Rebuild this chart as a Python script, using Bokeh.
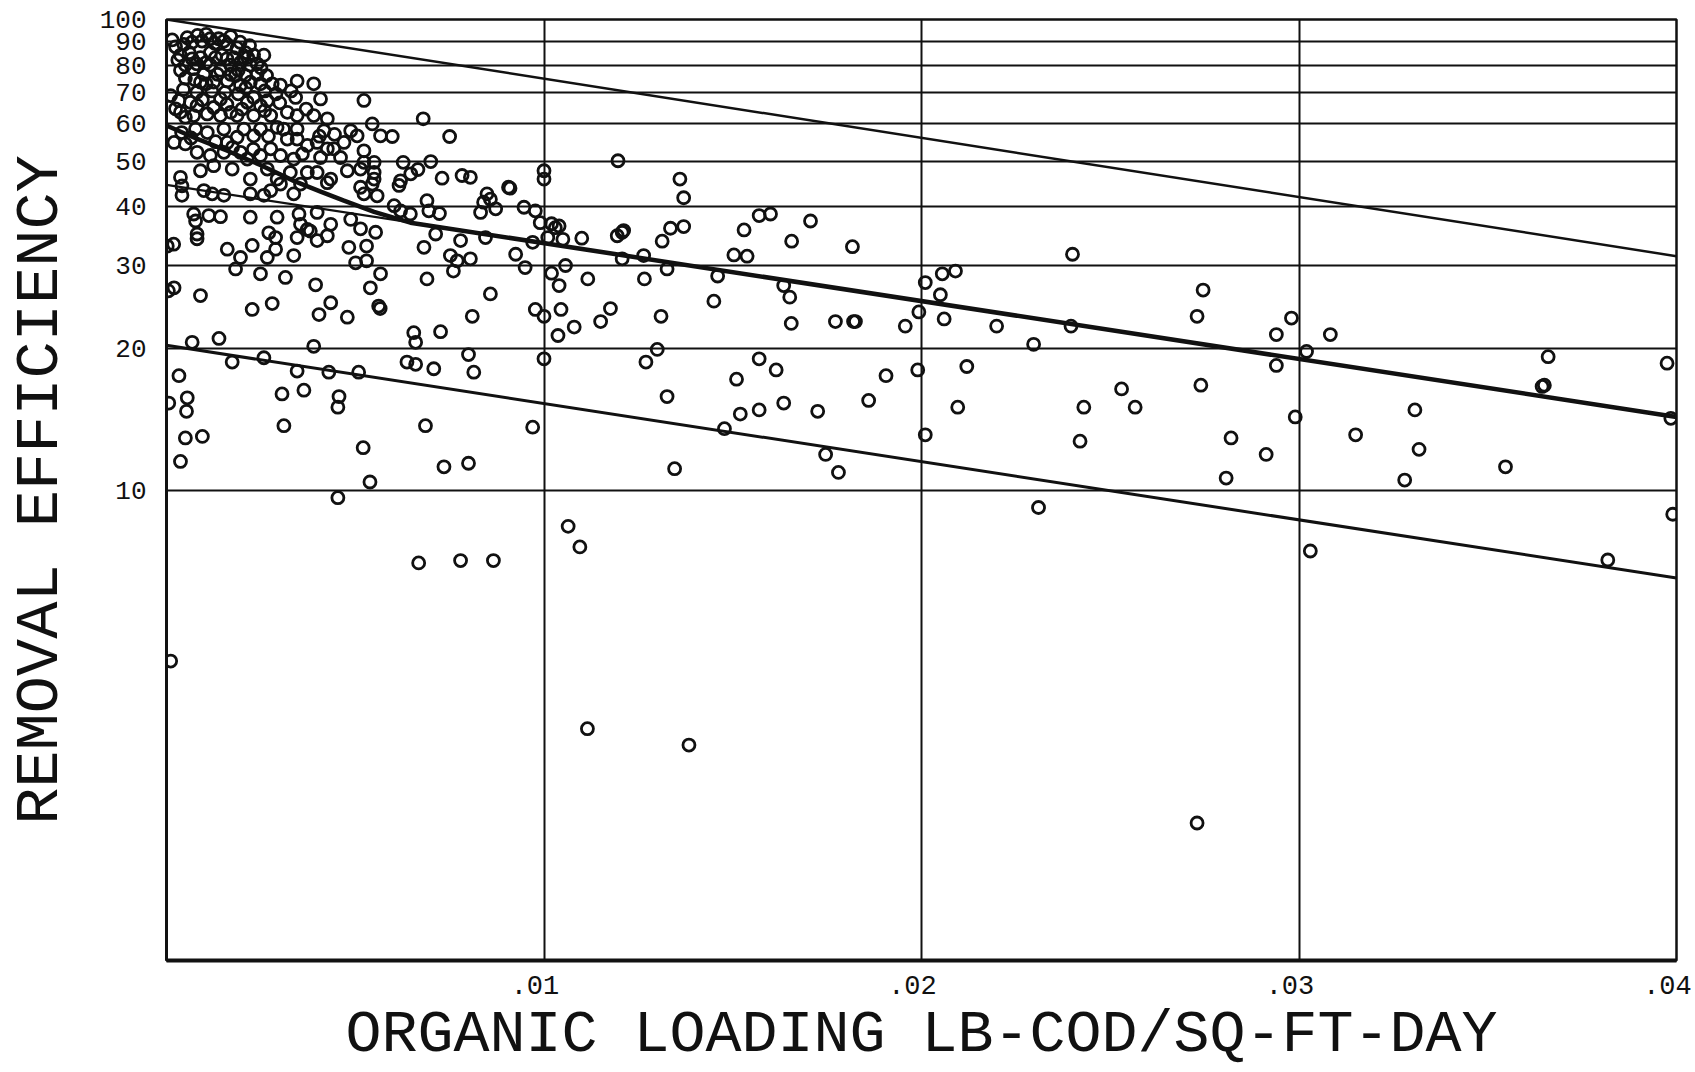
from bokeh.plotting import figure
from bokeh.models import Range1d, FixedTicker
from bokeh.embed import file_html
from bokeh.resources import INLINE

# ---------------- data ----------------
loading = [
    # dense cluster, 70-95 %
    0.00024, 0.00046, 0.00068, 0.00094, 0.00116, 0.00138, 0.00170, 0.00161, 0.00187, 0.00209,
    0.00231, 0.00258, 0.00037, 0.00068, 0.00090, 0.00116, 0.00143, 0.00170, 0.00196, 0.00222,
    0.00240, 0.00090, 0.00125, 0.00161, 0.00196, 0.00222, 0.00249, 0.00280, 0.00302, 0.00346,
    0.00390, 0.00037, 0.00060, 0.00116, 0.00147, 0.00178, 0.00205, 0.00072, 0.00099, 0.00183,
    0.00209, 0.00240,
    0.00015, 0.00055, 0.00082, 0.00105, 0.00128, 0.00152, 0.00195, 0.00220, 0.00030, 0.00050,
    0.00080, 0.00105, 0.00130, 0.00160, 0.00190, 0.00215, 0.00250, 0.00265, 0.00050, 0.00075,
    0.00105, 0.00135, 0.00170, 0.00210, 0.00260, 0.00045, 0.00080, 0.00120, 0.00155, 0.00190,
    # 60-70 %
    0.00011, 0.00033, 0.00024, 0.00037, 0.00063, 0.00081, 0.00108, 0.00072, 0.00143, 0.00170,
    0.00187, 0.00214, 0.00231, 0.00249, 0.00267, 0.00231, 0.00276, 0.00320, 0.00346, 0.00342,
    0.00390, 0.00408, 0.00143, 0.00426,
    0.00050, 0.00095, 0.00125, 0.00160, 0.00200, 0.00260, 0.00300, 0.00370, 0.00290, 0.00330,
    # 50-60 %
    0.00020, 0.00050, 0.00077, 0.00108, 0.00152, 0.00161, 0.00187, 0.00205, 0.00231, 0.00249,
    0.00276, 0.00293, 0.00320, 0.00346, 0.00346, 0.00373, 0.00399, 0.00426, 0.00417, 0.00443,
    0.00470, 0.00488, 0.00081, 0.00116, 0.00152, 0.00196, 0.00214, 0.00249, 0.00302, 0.00337,
    0.00505,
    0.00040, 0.00065, 0.00130, 0.00175, 0.00230, 0.00270, 0.00310, 0.00360, 0.00405, 0.00445,
    # 45-50 %
    0.00037, 0.00090, 0.00125, 0.00174, 0.00222, 0.00267, 0.00293, 0.00328, 0.00373, 0.00399,
    0.00435, 0.00479, 0.00408, 0.00461,
    # x 0.005-0.008, upper
    0.00523, 0.00545, 0.00567, 0.00598, 0.00680, 0.00750, 0.00523, 0.00523, 0.00550, 0.00514,
    0.00550, 0.00550, 0.00627, 0.00647, 0.00666, 0.00700, 0.00620, 0.00730, 0.00783, 0.00805,
    # x 0.005-0.009, middle
    0.00545, 0.00616, 0.00906, 0.00523, 0.00558, 0.00603, 0.00620, 0.00646, 0.00690, 0.00695,
    0.00723, 0.00849, 0.00840, 0.00832, 0.00872, 0.00858, 0.00514, 0.00554, 0.00530, 0.00530,
    0.00682, 0.00713, 0.00779, 0.00752, 0.00770, 0.00805, 0.00760, 0.00845, 0.00567, 0.00540,
    0.00690, 0.00562, 0.00566, 0.00858, 0.00810, 0.00655, 0.00660, 0.00726,
    # x 0-0.005, 23-45 %
    0.00041, 0.00041, 0.00099, 0.00121, 0.00152, 0.00222, 0.00258, 0.00276, 0.00302, 0.00337,
    0.00355, 0.00426, 0.00514, 0.00072, 0.00077, 0.00081, 0.00081, 0.00112, 0.00143, 0.00222,
    0.00293, 0.00351, 0.00355, 0.00381, 0.00399, 0.00399, 0.00435, 0.00426, 0.00488, 0.00271,
    0.00289, 0.00346, 0.00373, 0.00019, 0.00002, 0.00161, 0.00196, 0.00227, 0.00267, 0.00289,
    0.00337, 0.00183, 0.00249, 0.00315, 0.00395, 0.00483, 0.00501, 0.00005, 0.00020, 0.00090,
    0.00227, 0.00280, 0.00404, 0.00435, 0.00479,
    # x 0-0.009, 9-21 %
    0.00033, 0.00006, 0.00055, 0.00053, 0.00050, 0.00095, 0.00037, 0.00068, 0.00139, 0.00174,
    0.00258, 0.00306, 0.00311, 0.00346, 0.00364, 0.00390, 0.00430, 0.00457, 0.00454, 0.00509,
    0.00521, 0.00539, 0.00454, 0.00637, 0.00660, 0.00708, 0.00800, 0.00814, 0.00686, 0.00735,
    0.00800, 0.00011,
    # x 0.009-0.022
    0.01196, 0.01000, 0.01000, 0.01360, 0.01370, 0.00910, 0.00947, 0.00977, 0.00990, 0.01020,
    0.01030, 0.01040, 0.01010, 0.01050, 0.01100, 0.00970, 0.00925, 0.00950, 0.01020, 0.01057,
    0.01040, 0.01116, 0.00977, 0.01000, 0.01045, 0.01037, 0.01080, 0.01150, 0.01176, 0.01000,
    0.01194, 0.01207, 0.01211, 0.01207, 0.01264, 0.01266, 0.01313, 0.01335, 0.01370, 0.01326,
    0.01310, 0.01300, 0.01270, 0.01326, 0.01346, 0.00970, 0.01450, 0.01460, 0.01503, 0.01538,
    0.01530, 0.01570, 0.01600, 0.01706, 0.01656, 0.01635, 0.01651, 0.01655, 0.01772, 0.01820,
    0.01825, 0.01817, 0.01957, 0.02010, 0.01993, 0.02050, 0.02055, 0.02090, 0.02060, 0.02199,
    0.01990, 0.02120, 0.02096, 0.02010, 0.01570, 0.01615, 0.01510, 0.01520, 0.01570, 0.01635,
    0.01725, 0.01860, 0.01906, 0.01746, 0.01780, 0.01478,
    # x 0.022-0.04
    0.02400, 0.02297, 0.02396, 0.02310, 0.02430, 0.02420, 0.02530, 0.02566, 0.02746, 0.02730,
    0.02740, 0.02820, 0.02807, 0.02913, 0.02980, 0.02940, 0.02940, 0.03020, 0.03083, 0.02990,
    0.03150, 0.03030, 0.03280, 0.03307, 0.03318, 0.03547, 0.03660, 0.03644, 0.03650, 0.03975,
    0.03990, 0.03818, 0.03985, 0.02730,
    # low outliers
    0.01115, 0.01384, 0.01064, 0.01095, 0.00668, 0.00779, 0.00866,
]

efficiency = [
    87.5, 88.5, 89.5, 90.0, 91.0, 91.0, 92.0, 88.5, 87.0, 85.0,
    84.0, 84.0, 78.0, 82.5, 83.0, 80.0, 78.0, 80.0, 81.0, 80.0,
    76.5, 73.6, 73.6, 74.0, 72.5, 73.6, 73.0, 73.0, 72.5, 74.0,
    73.0, 84.0, 85.0, 85.0, 84.0, 83.0, 83.0, 78.6, 76.5, 76.0,
    76.0, 80.5,
    90.5, 91.5, 92.5, 93.0, 89.0, 90.0, 89.5, 88.0, 82.0, 80.0,
    80.5, 81.0, 83.0, 82.5, 78.0, 83.0, 79.0, 76.0, 75.0, 74.5,
    73.0, 76.5, 76.5, 71.5, 70.5, 71.0, 70.0, 70.5, 70.0, 69.5,
    68.9, 67.2, 64.6, 63.5, 66.7, 65.6, 63.0, 62.5, 67.8, 63.5,
    62.5, 66.7, 68.3, 65.6, 67.2, 62.5, 62.5, 63.5, 62.5, 68.3,
    62.5, 67.8, 62.5, 61.5,
    62.0, 67.5, 65.0, 66.0, 64.5, 64.0, 66.5, 64.5, 69.5, 70.5,
    54.8, 54.4, 58.5, 57.5, 58.5, 54.8, 56.2, 58.5, 56.6, 58.5,
    53.1, 59.0, 55.7, 58.5, 55.7, 54.0, 54.8, 53.1, 58.0, 53.1,
    54.8, 58.0, 52.2, 51.4, 52.2, 52.2, 50.5, 51.4, 51.4, 50.5,
    56.6,
    57.5, 56.0, 55.0, 53.5, 53.0, 56.5, 58.5, 51.8, 56.5, 57.0,
    46.2, 47.7, 48.9, 48.1, 45.8, 48.1, 45.8, 47.3, 47.3, 47.3,
    45.8, 47.7, 50.9, 50.9,
    67.3, 60.0, 56.6, 56.4, 61.5, 56.4, 52.6, 49.7, 49.7, 48.1,
    47.3, 45.8, 49.7, 47.0, 48.0, 49.9, 45.4, 46.0, 46.6, 46.2,
    44.7, 44.4, 44.0, 42.6, 42.2, 40.2, 39.2, 38.6, 41.2, 39.2,
    38.7, 42.6, 40.9, 38.9, 39.6, 41.5, 35.9, 35.3, 33.0, 30.7,
    32.8, 35.0, 33.9, 31.5, 30.7, 31.0, 29.2, 34.4, 28.8, 26.9,
    28.1, 24.6, 24.3, 26.1, 23.4, 21.6, 20.6, 21.7,
    44.3, 42.3, 43.3, 42.6, 42.3, 42.6, 42.3, 43.3, 44.7, 42.6,
    44.7, 45.0, 44.0, 38.6, 37.3, 35.0, 34.2, 38.3, 38.1, 38.0,
    38.0, 38.6, 36.7, 35.5, 33.9, 38.9, 36.7, 34.7, 37.6, 35.2,
    34.4, 34.4, 35.8, 33.3, 33.0, 32.5, 31.2, 33.1, 31.2, 32.5,
    31.5, 29.5, 28.8, 28.3, 27.3, 32.8, 30.4, 26.5, 26.9, 25.9,
    24.2, 24.9, 23.6, 25.0, 23.3,
    17.5, 15.3, 15.7, 14.7, 12.9, 13.0, 11.5, 20.6, 21.0, 18.7,
    19.1, 16.0, 13.7, 17.9, 16.3, 20.2, 17.8, 15.8, 15.0, 17.8,
    12.3, 10.4, 9.63, 18.7, 18.5, 18.1, 19.4, 17.8, 13.7, 11.2,
    11.4, 4.33,
    50.1, 47.7, 45.8, 45.8, 41.8, 43.8, 39.9, 39.2, 37.0, 36.8,
    36.1, 36.4, 34.4, 34.1, 34.3, 33.6, 31.7, 29.7, 28.9, 30.0,
    27.2, 28.1, 24.2, 23.4, 24.2, 21.3, 22.2, 22.8, 24.3, 19.0,
    34.7, 35.3, 35.6, 31.0, 31.5, 28.1, 33.8, 36.0, 36.3, 29.5,
    23.4, 19.9, 18.7, 15.8, 11.1, 13.6, 25.2, 28.5, 31.6, 31.4,
    35.7, 38.3, 38.6, 37.3, 33.8, 27.2, 25.7, 22.6, 22.8, 22.8,
    22.8, 32.9, 22.3, 27.6, 23.9, 26.0, 28.8, 29.2, 23.1, 22.3,
    18.0, 18.3, 15.0, 13.1, 19.0, 18.0, 17.2, 14.5, 14.8, 15.3,
    14.7, 15.5, 17.5, 11.9, 10.9, 13.5,
    31.7, 20.4, 22.3, 9.18, 15.0, 12.7, 16.4, 15.0, 26.6, 23.4,
    16.7, 12.9, 10.6, 11.9, 23.2, 21.4, 18.4, 19.7, 21.4, 14.3,
    13.1, 7.42, 10.5, 14.8, 12.2, 11.2, 19.2, 16.6, 16.7, 18.6,
    8.88, 7.1, 14.2, 1.96,
    3.11, 2.87, 8.37, 7.57, 7.0, 7.08, 7.08,
]

# straight lines (end values read at loading 0 and 0.04)
line_loading = [0.0, 0.04]
upper_limit = [100.0, 31.4]
middle_fit = [44.5, 14.3]
lower_limit = [20.3, 6.5]

# thick mean curve, read along its path
curve_loading = [0.0, 0.0008, 0.00161, 0.0025, 0.00337, 0.0041, 0.0047, 0.0055, 0.00646, 0.04]
curve_efficiency = [59.5, 55.8, 52.6, 49.0, 45.4, 43.0, 41.2, 39.0, 37.0, 14.3]

x_ticks = [0.01, 0.02, 0.03, 0.04]
x_tick_labels = [".01", ".02", ".03", ".04"]
y_ticks = [10, 20, 30, 40, 50, 60, 70, 80, 90, 100]
y_tick_labels = ["10", "20", "30", "40", "50", "60", "70", "80", "90", "100"]

FONT = "Liberation Mono"
INK = "#111111"
X_START, X_END = 0.0, 0.04
# the plotter set its x labels a little left of each grid line (style offset, in data units)
LABEL_SHIFT = 0.00024

p = figure(
    width=1693, height=1071,
    x_range=Range1d(X_START, X_END), y_range=Range1d(1, 100),
    y_axis_type="log",
    output_backend="svg", toolbar_location=None,
    min_border_left=166, min_border_right=17, min_border_top=19, min_border_bottom=111,
    background_fill_color="white", border_fill_color="white",
)
p.outline_line_color = INK
p.outline_line_width = 2.5
p.outline_line_alpha = 1.0

# y axis
p.yaxis.ticker = FixedTicker(ticks=y_ticks)
p.yaxis.major_label_overrides = {t: l for t, l in zip(y_ticks, y_tick_labels)}
p.yaxis.major_tick_line_color = None
p.yaxis.minor_tick_line_color = None
p.yaxis.major_tick_out = 0
p.yaxis.major_tick_in = 0
p.yaxis.major_label_standoff = 20
p.yaxis.major_label_text_font = FONT
p.yaxis.major_label_text_font_size = "26px"
p.yaxis.major_label_text_color = INK
p.yaxis.axis_line_width = 3
p.yaxis.axis_line_color = INK
p.yaxis.axis_label = "REMOVAL EFFICIENCY"
p.yaxis.axis_label_text_font = FONT
p.yaxis.axis_label_text_font_size = "62px"
p.yaxis.axis_label_text_font_style = "normal"
p.yaxis.axis_label_text_color = INK
p.yaxis.axis_label_standoff = 21

# x axis: reads a copy of the x range shifted by LABEL_SHIFT so its labels sit left of the grid lines
p.extra_x_ranges = {"labels": Range1d(X_START + LABEL_SHIFT, X_END + LABEL_SHIFT)}
p.xaxis.x_range_name = "labels"
p.xaxis.ticker = FixedTicker(ticks=x_ticks)
p.xaxis.major_label_overrides = {t: l for t, l in zip(x_ticks, x_tick_labels)}
p.xaxis.major_tick_line_color = None
p.xaxis.minor_tick_line_color = None
p.xaxis.major_tick_out = 0
p.xaxis.major_tick_in = 0
p.xaxis.major_label_standoff = 15
p.xaxis.major_label_text_font = FONT
p.xaxis.major_label_text_font_size = "27px"
p.xaxis.major_label_text_color = INK
p.xaxis.axis_line_width = 4
p.xaxis.axis_line_color = INK
p.xaxis.axis_label = "ORGANIC LOADING LB-COD/SQ-FT-DAY"
p.xaxis.axis_label_text_font = FONT
p.xaxis.axis_label_text_font_size = "60px"
p.xaxis.axis_label_text_font_style = "normal"
p.xaxis.axis_label_text_color = INK
p.xaxis.axis_label_standoff = 4

p.xgrid.ticker = FixedTicker(ticks=x_ticks)
p.xgrid.x_range_name = "default"
for g in (p.xgrid, p.ygrid):
    g.grid_line_color = INK
    g.grid_line_width = 2
    g.grid_line_alpha = 1.0

# lines
p.line(line_loading, upper_limit, line_color=INK, line_width=2.5)
p.line(line_loading, middle_fit, line_color=INK, line_width=2.2)
p.line(line_loading, lower_limit, line_color=INK, line_width=3)
p.line(curve_loading, curve_efficiency, line_color=INK, line_width=4.5)

# data points
p.scatter(loading, efficiency, marker="circle", size=12,
          fill_color=None, line_color=INK, line_width=2.8)

open("out.html", "w").write(file_html(p, INLINE))
